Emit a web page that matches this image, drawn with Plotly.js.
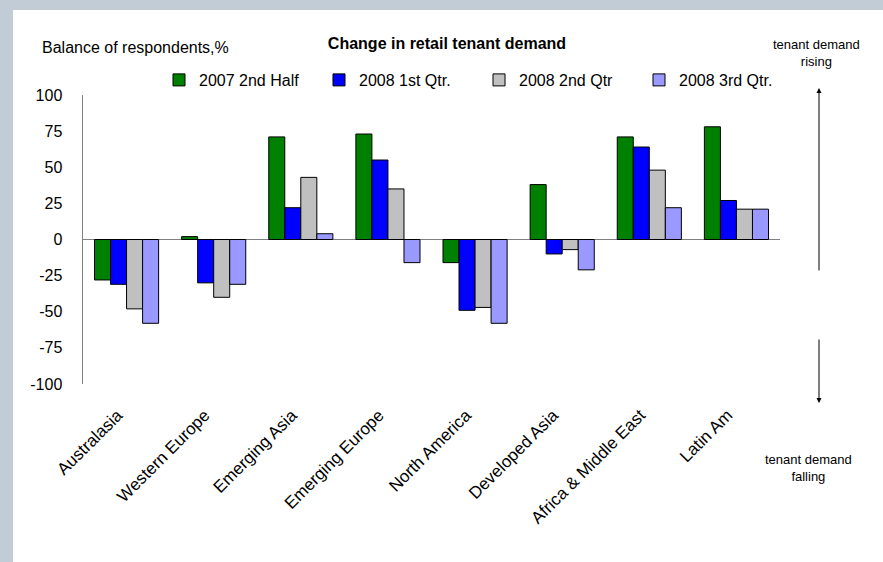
<!DOCTYPE html>
<html>
<head>
<meta charset="utf-8">
<script src="https://cdn.plot.ly/plotly-3.0.1.min.js"></script>
<style>
  html, body { margin: 0; padding: 0; width: 883px; height: 562px; background: #c1ccd6; overflow: hidden; }
  #chart { position: absolute; left: 13px; top: 10px; width: 870px; height: 552px; background: #ffffff; }
</style>
</head>
<body>
<div id="chart"></div>
<script>
const categories = ['Australasia', 'Western Europe', 'Emerging Asia', 'Emerging Europe', 'North America', 'Developed Asia', 'Africa & Middle East', 'Latin Am'];
const seriesNames = ['2007 2nd Half', '2008 1st Qtr.', '2008 2nd Qtr', '2008 3rd Qtr.'];
const half2007 = [-28, 2, 71, 73, -16, 38, 71, 78];
const q1_2008 = [-31, -30, 22, 55, -49, -10, 64, 27];
const q2_2008 = [-48, -40, 43, 35, -47, -7, 48, 21];
const q3_2008 = [-58, -31, 4, -16, -58, -21, 22, 21];
const yTicks = [-100, -75, -50, -25, 0, 25, 50, 75, 100];

const FONT = 'Liberation Sans, Arial, sans-serif';
const colors = ['#008000', '#0000ff', '#c0c0c0', '#9999ff'];
const values = [half2007, q1_2008, q2_2008, q3_2008];

const traces = values.map((v, i) => ({
  type: 'bar',
  name: seriesNames[i],
  x: categories,
  y: v,
  marker: { color: colors[i], line: { color: '#000000', width: 1 } },
  hoverinfo: 'x+y+name'
}));

const W = 870, H = 552;
const L = 70, R = 103, T = 85, B = 178;
const pw = W - L - R, ph = H - T - B;
const px = x => (x - L) / pw;
const py = y => (H - B - y) / ph;

const layout = {
  width: W, height: H,
  margin: { l: L, r: R, t: T, b: B, pad: 0 },
  paper_bgcolor: '#ffffff',
  plot_bgcolor: '#ffffff',
  font: { family: FONT, size: 16, color: '#000000' },
  barmode: 'group',
  bargap: 0.264,
  bargroupgap: 0,
  showlegend: true,
  title: {
    text: '<b>Change in retail tenant demand</b>',
    font: { family: FONT, size: 16, color: '#000000' },
    xref: 'container', x: 434 / W, xanchor: 'center',
    yref: 'container', y: 1 - 33 / H, yanchor: 'middle'
  },
  legend: {
    orientation: 'h',
    x: px(146), xanchor: 'left',
    y: py(70), yanchor: 'middle',
    entrywidth: 115, entrywidthmode: 'pixels',
    font: { family: FONT, size: 16, color: '#000000' },
    bgcolor: 'rgba(0,0,0,0)',
    traceorder: 'normal'
  },
  xaxis: {
    type: 'category',
    showline: false,
    showgrid: false,
    zeroline: false,
    ticks: '',
    tickangle: -45,
    ticklabelstandoff: 17,
    ticklabelshift: -9,
    tickfont: { family: FONT, size: 17, color: '#000000' }
  },
  yaxis: {
    range: [-100, 100],
    tickvals: yTicks,
    ticktext: yTicks.map(String),
    showline: true,
    linecolor: '#808080',
    linewidth: 1.5,
    showgrid: false,
    zeroline: true,
    zerolinecolor: '#808080',
    zerolinewidth: 1,
    ticks: '',
    ticklabelstandoff: 16,
    tickfont: { family: FONT, size: 16, color: '#000000' }
  },
  annotations: [
    {
      text: 'Balance of respondents,%',
      xref: 'paper', yref: 'paper',
      x: px(27), y: py(38), xanchor: 'left', yanchor: 'middle',
      showarrow: false,
      font: { family: FONT, size: 16, color: '#000000' }
    },
    {
      text: 'tenant demand<br>rising',
      xref: 'paper', yref: 'paper',
      x: px(804), y: py(42.5), xanchor: 'center', yanchor: 'middle',
      showarrow: false, align: 'center',
      font: { family: FONT, size: 13, color: '#000000' }
    },
    {
      text: 'tenant demand<br>falling',
      xref: 'paper', yref: 'paper',
      x: px(795), y: py(458), xanchor: 'center', yanchor: 'middle',
      showarrow: false, align: 'center',
      font: { family: FONT, size: 13, color: '#000000' }
    },
    {
      text: '',
      xref: 'paper', yref: 'paper',
      x: px(806), y: py(78),
      showarrow: true, ax: 0, ay: 184,
      arrowhead: 2, arrowsize: 1, arrowwidth: 1, arrowcolor: '#000000'
    },
    {
      text: '',
      xref: 'paper', yref: 'paper',
      x: px(806), y: py(393),
      showarrow: true, ax: 0, ay: -65,
      arrowhead: 2, arrowsize: 1, arrowwidth: 1, arrowcolor: '#000000'
    }
  ]
};

Plotly.newPlot('chart', traces, layout, { displayModeBar: false, staticPlot: true });
</script>
</body>
</html>
